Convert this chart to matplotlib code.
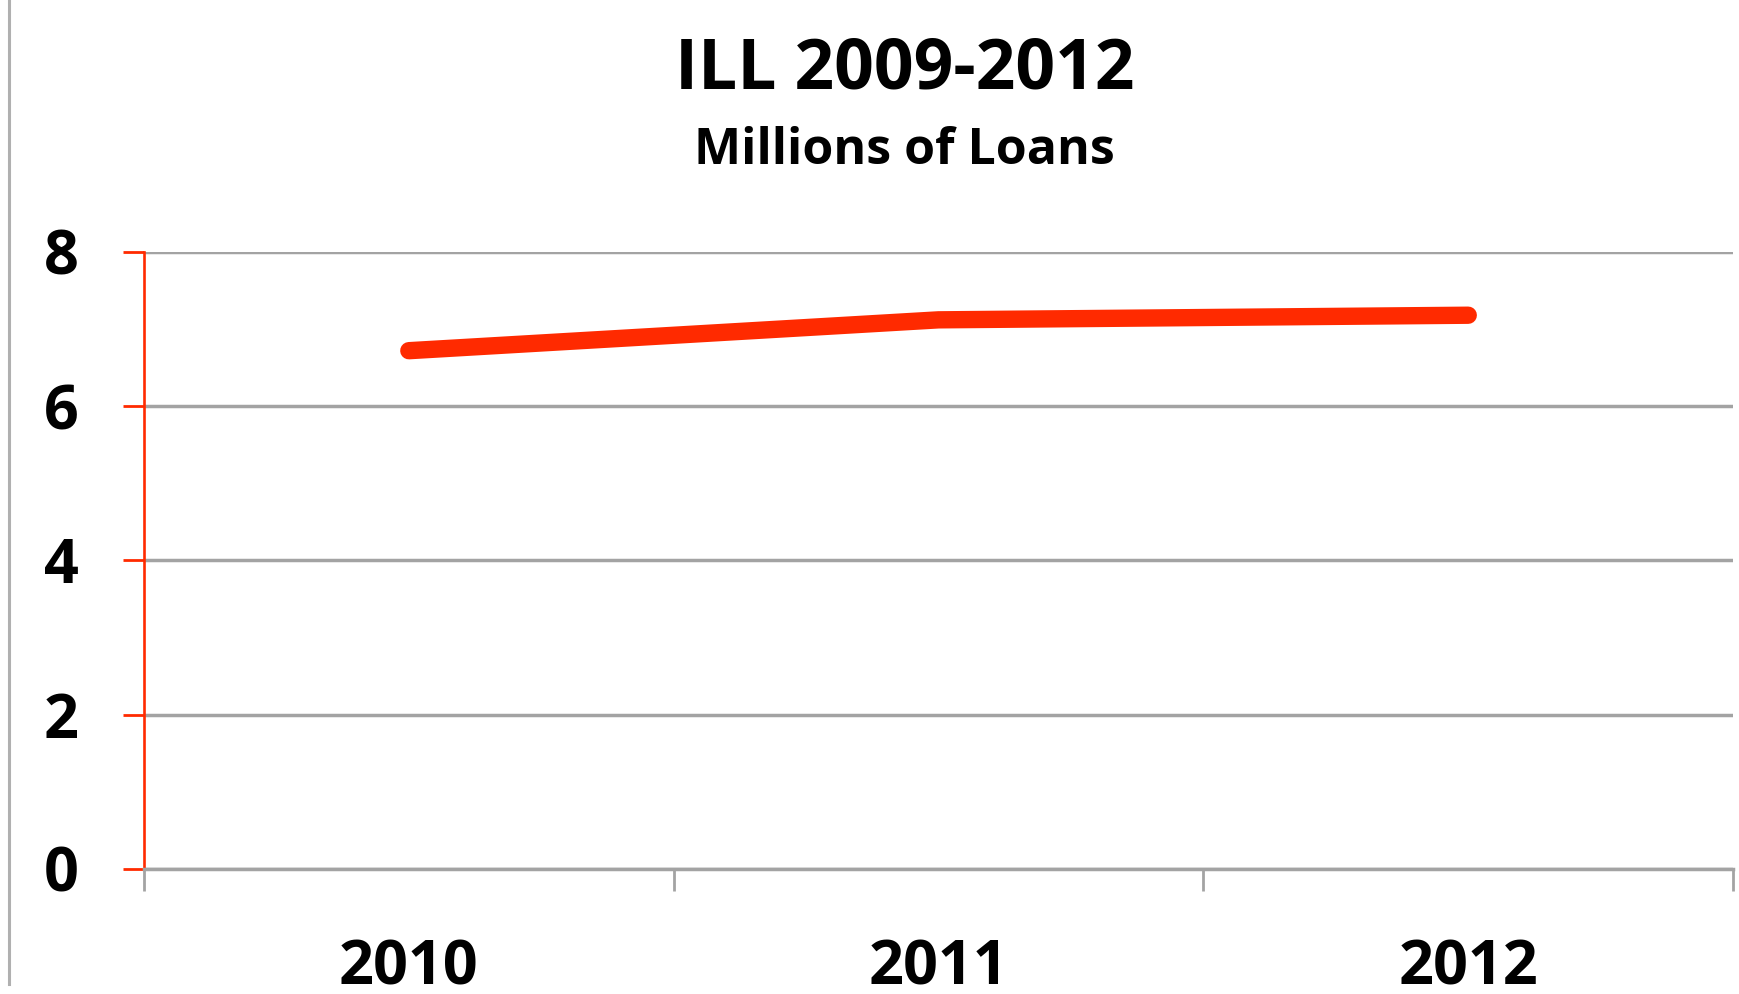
"""ILL loans 2009-2012 line chart, Excel-style."""

import matplotlib

matplotlib.use("Agg")
import matplotlib.pyplot as plt
from matplotlib.lines import Line2D

YEARS = ["2010", "2011", "2012"]
LOANS = [6.72, 7.12, 7.18]  # millions
Y_TICKS = [0, 2, 4, 6, 8]

TITLE = "ILL 2009-2012"
SUBTITLE = "Millions of Loans"

RED = "#ff2a00"
GRID = "#a3a3a3"

plt.rcParams["font.family"] = ["Open Sans", "DejaVu Sans"]

fig = plt.figure(figsize=(17.39, 9.94), dpi=100, facecolor="white")
ax = fig.add_axes((0.0828, 0.1258, 0.9138, 0.6207))

x = list(range(len(YEARS)))
ax.plot(x, LOANS, color=RED, lw=12.5, solid_capstyle="round", solid_joinstyle="round", zorder=3)

ax.set_xlim(-0.5, len(YEARS) - 0.5)
ax.set_ylim(0, 8)
ax.set_yticks(Y_TICKS)
ax.set_yticklabels([str(v) for v in Y_TICKS], fontsize=44, fontweight="bold")
ax.yaxis.grid(True, color=GRID, lw=2.5)
ax.set_axisbelow(True)

# categories at centres, tick marks on the boundaries
ax.set_xticks(x)
ax.set_xticklabels(YEARS, fontsize=44, fontweight="bold")
ax.set_xticks([i - 0.5 for i in range(len(YEARS) + 1)], minor=True)
ax.tick_params(axis="x", which="major", length=0, pad=50)
ax.tick_params(axis="x", which="minor", length=16, width=2.0, color=GRID, direction="out")
ax.tick_params(axis="y", length=15, width=2.0, color=RED, direction="out", pad=32)

for side in ("top", "right"):
    ax.spines[side].set_visible(False)
ax.spines["left"].set_color(RED)
ax.spines["left"].set_linewidth(1.9)
ax.spines["bottom"].set_color(GRID)
ax.spines["bottom"].set_linewidth(2.5)

fig.text(0.52, 0.9105, TITLE, ha="center", va="baseline", fontsize=50, fontweight="bold")
fig.text(0.52, 0.835, SUBTITLE, ha="center", va="baseline", fontsize=36, fontweight="bold")

# chart frame edge on the left
fig.add_artist(Line2D([0.0052, 0.0052], [0.01, 1.0], color="#b0b0b0", lw=2.2, transform=fig.transFigure))

fig.savefig("out.png", dpi=100, facecolor="white")
